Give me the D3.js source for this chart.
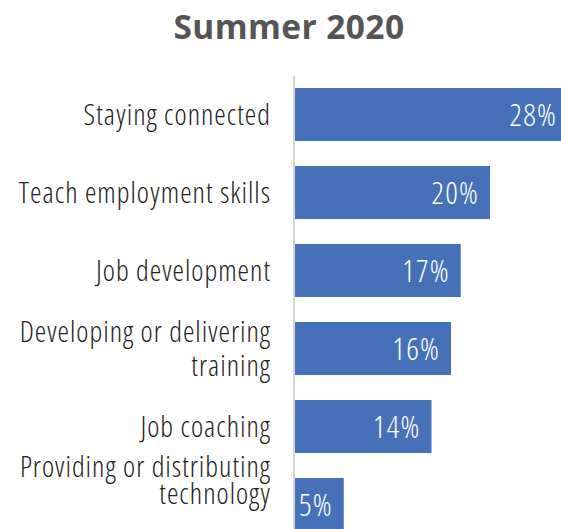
<!DOCTYPE html>
<html>
<head>
<meta charset="utf-8">
<script src="https://cdn.jsdelivr.net/npm/d3@7"></script>
<style>
  html, body { margin: 0; padding: 0; background: #fff; }
  svg { display: block; }
  .cond { font-family: "Open Sans", "DejaVu Sans", sans-serif; font-stretch: condensed; }
  .title { font-family: "Open Sans", "DejaVu Sans", sans-serif; font-stretch: normal; }
</style>
</head>
<body>
<div id="chart"></div>
<script>
// Share of respondents by activity, summer 2020
const categories = [
  ["Staying connected"],
  ["Teach employment skills"],
  ["Job development"],
  ["Developing or delivering", "training"],
  ["Job coaching"],
  ["Providing or distributing", "technology"]
];
const values = [28, 20, 17, 16, 14, 5];
const title = "Summer 2020";

const W = 561, H = 529;
const axisX = 295;

const svg = d3.select("#chart").append("svg")
  .attr("width", W).attr("height", H);

const x = d3.scaleLinear().domain([0, 20]).range([axisX, axisX + 195]);
const y = d3.scaleBand()
  .domain(d3.range(values.length))
  .range([75.5, 543.5])
  .paddingInner(0.32)
  .paddingOuter(0.16);

svg.append("text")
  .attr("class", "title")
  .attr("x", 289).attr("y", 39)
  .attr("text-anchor", "middle")
  .attr("font-size", 33.5).attr("font-weight", 700)
  .attr("letter-spacing", 0.4)
  .attr("fill", "#555")
  .text(title);

svg.append("line")
  .attr("x1", axisX - 1).attr("x2", axisX - 1)
  .attr("y1", 76).attr("y2", H)
  .attr("stroke", "#d4d4d4").attr("stroke-width", 2);

svg.selectAll("rect.bar").data(values).join("rect")
  .attr("class", "bar")
  .attr("x", x(0))
  .attr("y", (d, i) => y(i))
  .attr("width", d => x(d) - x(0))
  .attr("height", y.bandwidth())
  .attr("fill", "#4671b8");

svg.selectAll("text.val").data(values).join("text")
  .attr("class", "val cond")
  .attr("x", d => x(d) - 11)
  .attr("y", (d, i) => y(i) + y.bandwidth() / 2 + 11)
  .attr("text-anchor", "end")
  .attr("font-size", 31)
  .attr("font-weight", 300)
  .attr("letter-spacing", 1.2)
  .attr("fill", "#fff")
  .text(d => d + "%");

// Two-line labels get 34px leading; a block that would run off the bottom
// is tightened and lifted so it stays inside the frame.
const lineH = 34, tightH = 27, bottomLimit = H - 25;
const cats = svg.selectAll("text.cat").data(categories).join("text")
  .attr("class", "cat cond")
  .attr("text-anchor", "end")
  .attr("font-size", 29)
  .attr("font-weight", 300)
  .attr("letter-spacing", 1.0)
  .attr("fill", "#222");
cats.each(function(lines, i) {
  const cy = y(i) + y.bandwidth() / 2;
  let lh = lineH;
  let first = cy + 10 - (lines.length - 1) * lh / 2;
  if (first + (lines.length - 1) * lh > bottomLimit) {
    lh = tightH;
    first = bottomLimit - (lines.length - 1) * lh;
  }
  d3.select(this).selectAll("tspan").data(lines).join("tspan")
    .attr("x", 271)
    .attr("y", (l, k) => first + k * lh)
    .text(l => l);
});
</script>
</body>
</html>
